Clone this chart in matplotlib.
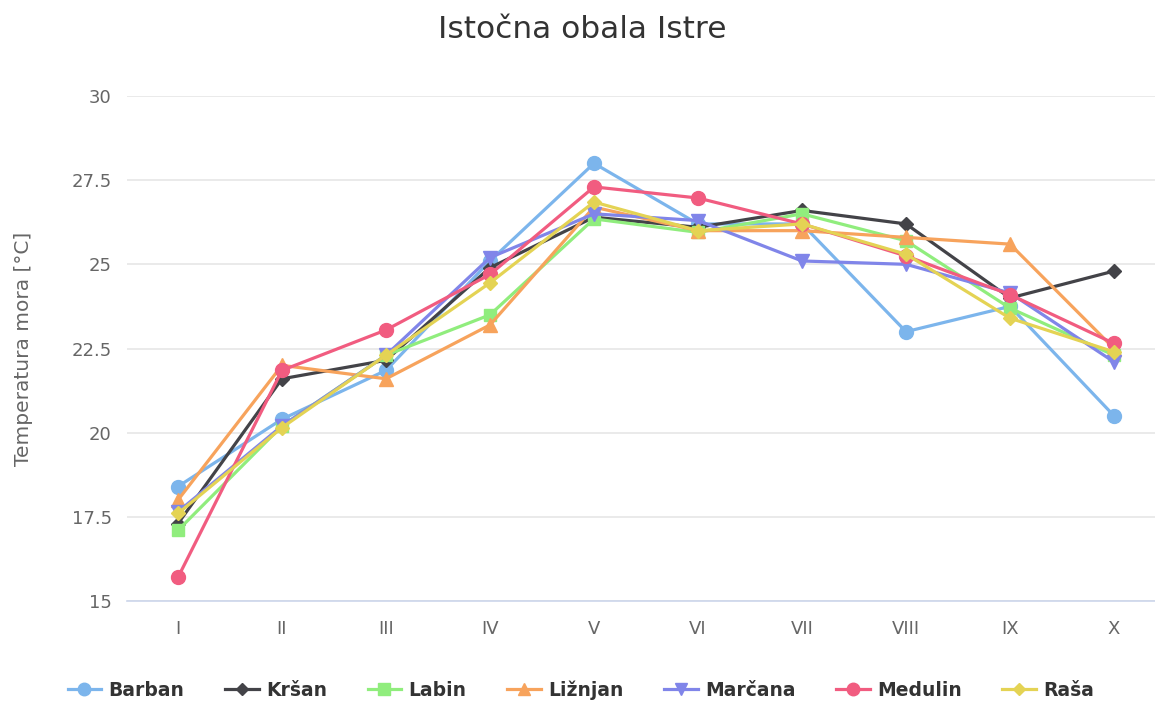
import matplotlib.pyplot as plt

plt.rcParams["font.family"] = ["DejaVu Sans"]

months = ["I", "II", "III", "IV", "V", "VI", "VII", "VIII", "IX", "X"]

barban = [18.4, 20.4, 21.85, 25.1, 28.0, 26.2, 26.2, 23.0, 23.75, 20.5]
krsan = [17.3, 21.6, 22.15, 24.9, 26.4, 26.1, 26.6, 26.2, 24.0, 24.8]
labin = [17.1, 20.2, 22.3, 23.5, 26.35, 25.95, 26.5, 25.7, 23.7, 22.3]
liznjan = [18.0, 22.0, 21.6, 23.2, 26.7, 26.0, 26.0, 25.8, 25.6, 22.5]
marcana = [17.65, 20.2, 22.3, 25.2, 26.5, 26.3, 25.1, 25.0, 24.15, 22.1]
medulin = [15.7, 21.85, 23.05, 24.7, 27.3, 26.97, 26.2, 25.25, 24.1, 22.65]
rasa = [17.6, 20.15, 22.3, 24.45, 26.85, 26.0, 26.2, 25.3, 23.4, 22.4]

series = [
    ("Barban", barban, "#7cb5ec", "o", 10),
    ("Kršan", krsan, "#434348", "D", 7),
    ("Labin", labin, "#90ed7d", "s", 9),
    ("Ližnjan", liznjan, "#f7a35c", "^", 10),
    ("Marčana", marcana, "#8085e9", "v", 10),
    ("Medulin", medulin, "#f15c80", "o", 10),
    ("Raša", rasa, "#e4d354", "D", 7),
]

fig = plt.figure(figsize=(11.55, 7.02), dpi=100)
ax = fig.add_axes([127 / 1155, 1 - 601 / 702, 1 - 127 / 1155, (601 - 96) / 702])

x = list(range(len(months)))
for name, vals, color, marker, ms in series:
    ax.plot(x, vals, color=color, marker=marker, markersize=ms, linewidth=2.3,
            label=name, clip_on=False)

ax.set_xlim(-0.49, 9.394)
ax.set_ylim(15, 30)
ax.set_yticks([15, 17.5, 20, 22.5, 25, 27.5, 30])
ax.set_yticklabels(["15", "17.5", "20", "22.5", "25", "27.5", "30"])
ax.set_xticks(x)
ax.set_xticklabels(months)
ax.tick_params(axis="both", length=0, labelsize=13, labelcolor="#666666")
ax.tick_params(axis="y", pad=11)
ax.tick_params(axis="x", pad=14)
ax.grid(axis="y", color="#e6e6e6", linewidth=1.2)
ax.set_axisbelow(True)
for side in ["top", "right", "left"]:
    ax.spines[side].set_visible(False)
ax.spines["bottom"].set_color("#ccd6eb")
ax.spines["bottom"].set_linewidth(1.2)

ax.set_ylabel("Temperatura mora [°C]", fontsize=14.5, color="#666666", labelpad=28)
fig.text(582 / 1155, 1 - 30 / 702, "Istočna obala Istre", ha="center", va="center",
         fontsize=22.5, color="#333333")

fig.legend(loc="center", bbox_to_anchor=(581 / 1155, 1 - 690 / 702), ncol=7, frameon=False,
           prop={"weight": "bold", "size": 13.5}, labelcolor="#333333",
           handlelength=1.8, columnspacing=2.15, handletextpad=0.4, markerscale=0.9)

fig.savefig("out.png", dpi=100)
